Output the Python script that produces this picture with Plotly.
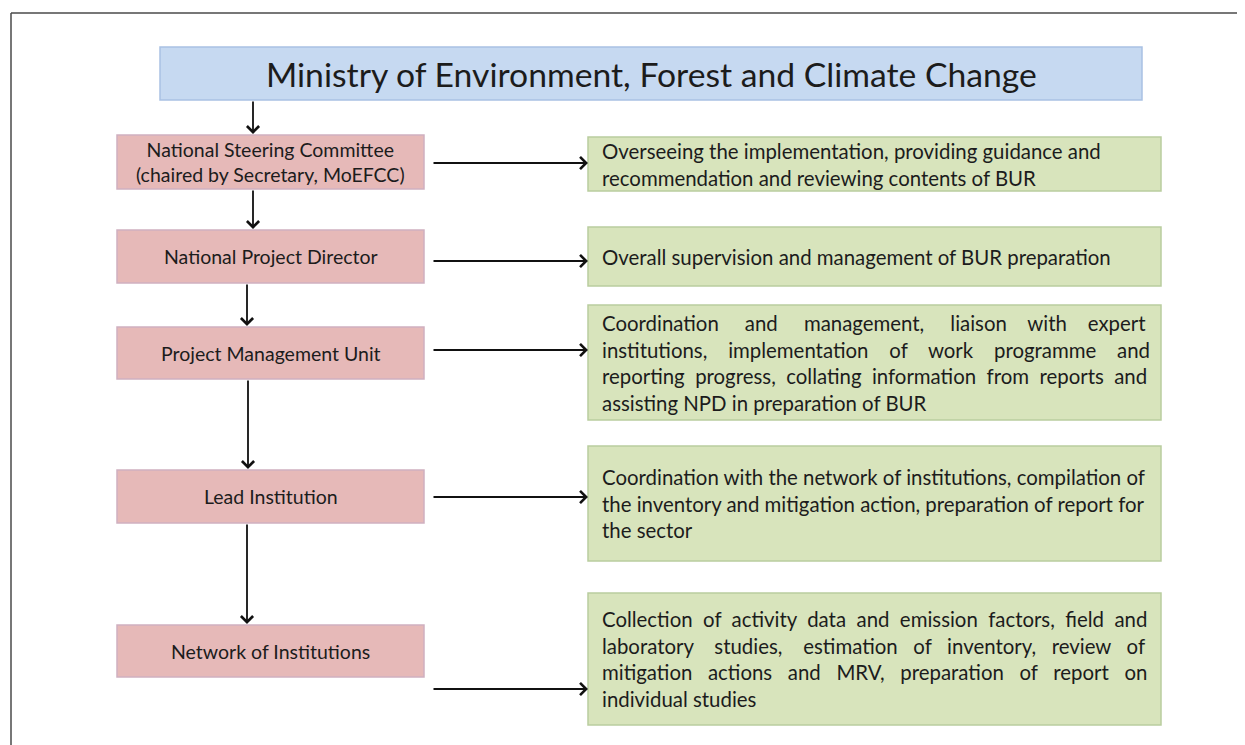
import plotly.graph_objects as go

# ---- content ----
ministry = "Ministry of Environment, Forest and Climate Change"
levels = [
    "National Steering Committee<br>(chaired by Secretary, MoEFCC)",
    "National Project Director",
    "Project Management Unit",
    "Lead Institution",
    "Network of Institutions",
]
roles = [
    ["Overseeing the implementation, providing guidance and",
     "recommendation and reviewing contents of BUR"],
    ["Overall supervision and management of BUR preparation"],
    ["Coordination and management, liaison with expert",
     "institutions, implementation of work programme and",
     "reporting progress, collating information from reports and",
     "assisting NPD in preparation of BUR"],
    ["Coordination with the network of institutions, compilation of",
     "the inventory and mitigation action, preparation of report for",
     "the sector"],
    ["Collection of activity data and emission factors, field and",
     "laboratory studies, estimation of inventory, review of",
     "mitigation actions and MRV, preparation of report on",
     "individual studies"],
]

# ---- layout geometry (diagram units = screen pixels) ----
W, H = 1245, 745
OFF = 8  # page body margin
top_box = (160, 1142, 47, 100)
pink_x = (117, 424)
pink_y = [(135, 189), (230, 283), (327, 379), (470, 523), (625, 677)]
green_x = (588, 1161)
green_y = [(137, 191), (227, 286), (305, 420), (446, 561), (593, 725)]
vert_arrow_x = [253, 253, 247, 248, 247]
arrow_y = [163, 261, 350, 497, 689]
# extra non-breaking spaces inserted per line to imitate justified text
just_pad = [[0, 0], [0], [18, 15, 6, 0], [0, 0, 0], [8, 14, 14, 0]]

FONT = "Lato, 'Open Sans', sans-serif"
BLUE, BLUE_L = "#c6d9f1", "#a9c1e3"
PINK, PINK_L = "#e6b9b8", "#cfb0c0"
GREEN, GREEN_L = "#d8e4bc", "#b9cd9f"
TXT = "#1c1c1c"


def justify(line, n_extra):
    words = line.split(" ")
    gaps = len(words) - 1
    if n_extra <= 0 or gaps <= 0:
        return line
    base, rem = divmod(n_extra, gaps)
    out = words[0]
    for g in range(gaps):
        k = base + (1 if g < rem else 0)
        out += " " + "\u00a0" * k + words[g + 1]
    return out


fig = go.Figure()
shapes, anns = [], []

# frame (top and left rules)
shapes.append(dict(type="line", x0=11, x1=W + 20, y0=13, y1=13, line=dict(color="#4a4a4a", width=1.5)))
shapes.append(dict(type="line", x0=11, x1=11, y0=13, y1=H + 20, line=dict(color="#4a4a4a", width=1.5)))

# ministry box
x0, x1, y0, y1 = top_box
shapes.append(dict(type="rect", x0=x0, x1=x1, y0=y0, y1=y1, fillcolor=BLUE, line=dict(color=BLUE_L, width=1.5)))
anns.append(dict(x=(x0 + x1) / 2, y=(y0 + y1) / 2, text=ministry, showarrow=False,
                 font=dict(family=FONT, size=33.7, color=TXT), xanchor="center", yanchor="middle"))

prev_bottom = y1
for i, (lab, role) in enumerate(zip(levels, roles)):
    py0, py1 = pink_y[i]
    gy0, gy1 = green_y[i]
    shapes.append(dict(type="rect", x0=pink_x[0], x1=pink_x[1], y0=py0, y1=py1,
                       fillcolor=PINK, line=dict(color=PINK_L, width=1.5)))
    anns.append(dict(x=(pink_x[0] + pink_x[1]) / 2, y=(py0 + py1) / 2, text=lab, showarrow=False,
                     font=dict(family=FONT, size=19.5, color=TXT), xanchor="center", yanchor="middle",
                     align="center"))
    shapes.append(dict(type="rect", x0=green_x[0], x1=green_x[1], y0=gy0, y1=gy1,
                       fillcolor=GREEN, line=dict(color=GREEN_L, width=1.5)))
    text = "<br>".join(justify(ln, p) for ln, p in zip(role, just_pad[i]))
    anns.append(dict(x=green_x[0] + 12, y=(gy0 + gy1) / 2, text=text, showarrow=False,
                     font=dict(family=FONT, size=20.4, color=TXT), xanchor="left", yanchor="middle",
                     align="left"))
    # vertical arrow from previous box
    anns.append(dict(x=vert_arrow_x[i], y=py0 - 1, ax=vert_arrow_x[i], ay=prev_bottom,
                     xref="x", yref="y", axref="x", ayref="y", text="", showarrow=True,
                     arrowhead=4, arrowsize=1.3, arrowwidth=1.8, arrowcolor="#111", standoff=0))
    # horizontal arrow to role box
    anns.append(dict(x=green_x[0], y=arrow_y[i], ax=pink_x[1] + 8, ay=arrow_y[i],
                     xref="x", yref="y", axref="x", ayref="y", text="", showarrow=True,
                     arrowhead=4, arrowsize=1.3, arrowwidth=1.8, arrowcolor="#111", standoff=0))
    prev_bottom = py1

fig.update_layout(
    width=W, height=H, margin=dict(l=0, r=0, t=0, b=0),
    paper_bgcolor="white", plot_bgcolor="white",
    xaxis=dict(range=[OFF, W + OFF], visible=False, fixedrange=True),
    yaxis=dict(range=[H + OFF, OFF], visible=False, fixedrange=True),
    shapes=shapes, annotations=anns, showlegend=False,
)
fig.write_html("out.html")
